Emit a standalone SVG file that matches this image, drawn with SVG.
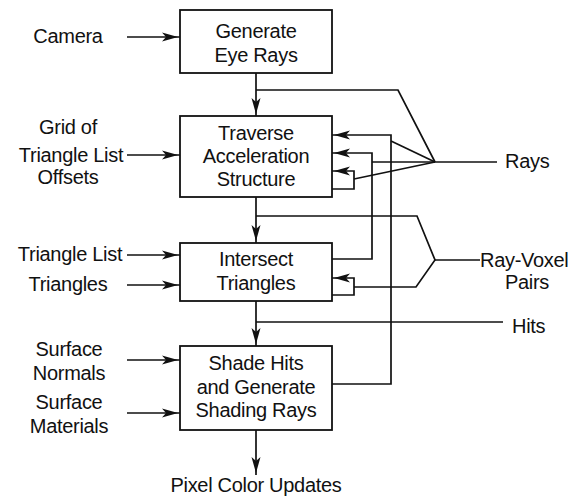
<svg xmlns="http://www.w3.org/2000/svg" width="578" height="497" viewBox="0 0 578 497">
<defs>
<marker id="ah" markerUnits="userSpaceOnUse" markerWidth="20" markerHeight="12" viewBox="0 0 20 12" refX="19" refY="6" orient="auto">
<path d="M1,1.5 L17,6 L1,10.5 L5,6 z" fill="#111"/>
</marker>
</defs>
<style>
text{font-family:"Liberation Sans",Arial,sans-serif;font-size:20px;letter-spacing:-0.3px;fill:#111;text-anchor:middle}
.box{fill:#fff;stroke:#111;stroke-width:1.8}
.c{fill:none;stroke:#111;stroke-width:1.7}
.a{marker-end:url(#ah)}
.l{text-anchor:start}
</style>
<rect width="578" height="497" fill="#fff"/>
<g id="connectors">
<path class="c a" d="M127,37 H180"/>
<path class="c a" d="M127,155 H180"/>
<path class="c a" d="M127,255 H180"/>
<path class="c a" d="M127,285 H180"/>
<path class="c a" d="M127,360 H180"/>
<path class="c a" d="M127,413 H180"/>
<path class="c a" d="M256,73 V116"/>
<path class="c a" d="M256,197 V243"/>
<path class="c a" d="M256,301 V346"/>
<path class="c a" d="M256,430 V475"/>
<path class="c" d="M256,90 H398 L435,162"/>
<path class="c" d="M372,162 H497"/>
<path class="c" d="M391,141 L435,162"/>
<path class="c" d="M354,179 L435,162"/>
<path class="c a" d="M332,384 H391 V135 H332"/>
<path class="c a" d="M332,259 H372 V153 H332"/>
<path class="c a" d="M332,189 H354 V171 H332"/>
<path class="c" d="M256,216 H417 L435,260 L416,287 H354"/>
<path class="c" d="M435,260 H480"/>
<path class="c a" d="M332,295 H354 V278 H332"/>
<path class="c" d="M256,322 H503"/>
</g>
<g id="gen">
<rect class="box" x="180" y="10" width="152" height="63"/>
<text x="256" y="38">Generate</text>
<text x="256" y="62">Eye Rays</text>
</g>
<g id="trav">
<rect class="box" x="180" y="116" width="152" height="81"/>
<text x="256" y="140">Traverse</text>
<text x="256" y="163">Acceleration</text>
<text x="256" y="186">Structure</text>
</g>
<g id="inter">
<rect class="box" x="180" y="243" width="152" height="58"/>
<text x="256" y="266">Intersect</text>
<text x="256" y="290">Triangles</text>
</g>
<g id="shade">
<rect class="box" x="180" y="346" width="152" height="84"/>
<text x="256" y="370">Shade Hits</text>
<text x="256" y="394">and Generate</text>
<text x="256" y="417">Shading Rays</text>
</g>
<g id="camera"><text x="68" y="43">Camera</text></g>
<g id="grid">
<text x="68" y="134">Grid of</text>
<text x="71" y="162">Triangle List</text>
<text x="68" y="184">Offsets</text>
</g>
<g id="trilist"><text x="70" y="261">Triangle List</text></g>
<g id="triangles"><text x="68" y="291">Triangles</text></g>
<g id="normals">
<text x="69" y="356">Surface</text>
<text x="69" y="380">Normals</text>
</g>
<g id="materials">
<text x="69" y="409">Surface</text>
<text x="69" y="433">Materials</text>
</g>
<g id="rays"><text class="l" x="505" y="168">Rays</text></g>
<g id="rvp">
<text class="l" x="480" y="267">Ray-Voxel</text>
<text x="527" y="289">Pairs</text>
</g>
<g id="hits"><text class="l" x="512" y="333">Hits</text></g>
<g id="pixel"><text x="256" y="492">Pixel Color Updates</text></g>
</svg>
